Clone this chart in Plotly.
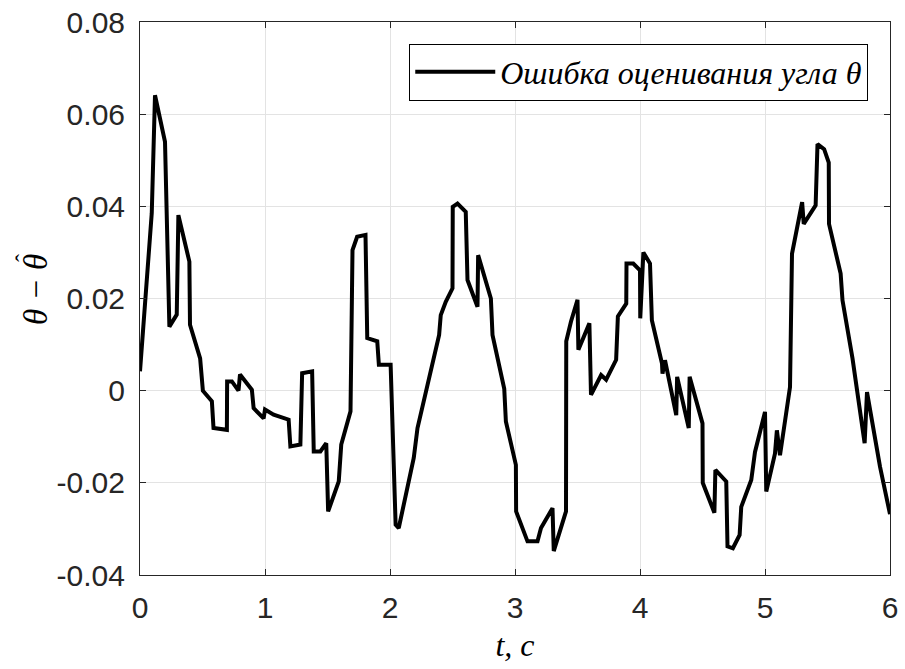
import plotly.graph_objects as go

t = [0.0, 0.094, 0.12, 0.2, 0.235, 0.294, 0.307, 0.395, 0.40, 0.481, 0.503, 0.575, 0.588, 0.695,
     0.697, 0.735, 0.788, 0.80, 0.895, 0.909, 0.989, 1.0, 1.069, 1.189, 1.203, 1.283, 1.297, 1.377,
     1.39, 1.443, 1.49, 1.505, 1.59, 1.61, 1.684, 1.70, 1.737, 1.804, 1.818, 1.898, 1.911, 2.005,
     2.045, 2.07, 2.19, 2.22, 2.393, 2.406, 2.446, 2.5, 2.502, 2.54, 2.606, 2.62, 2.70, 2.705,
     2.807, 2.82, 2.914, 2.927, 3.007, 3.009, 3.10, 3.18, 3.208, 3.30, 3.31, 3.408, 3.41, 3.448,
     3.50, 3.507, 3.595, 3.608, 3.689, 3.729, 3.809, 3.823, 3.89, 3.892, 3.946, 4.0, 4.002, 4.027,
     4.08, 4.095, 4.176, 4.18, 4.20, 4.29, 4.297, 4.39, 4.397, 4.5, 4.502, 4.595, 4.603, 4.69,
     4.70, 4.743, 4.797, 4.81, 4.89, 4.92, 5.0, 5.01, 5.08, 5.095, 5.12, 5.2, 5.216, 5.27, 5.297,
     5.31, 5.405, 5.42, 5.473, 5.51, 5.512, 5.605, 5.62, 5.70, 5.797, 5.816, 5.92, 6.0]
err = [0.0042, 0.0385, 0.0641, 0.054, 0.0139, 0.0165, 0.0381, 0.028, 0.0143, 0.007, 0.0, -0.0023,
       -0.0081, -0.0085, 0.002, 0.002, 0.0, 0.0035, 0.0002, -0.0038, -0.006, -0.0041, -0.0052,
       -0.0063, -0.0121, -0.0117, 0.0038, 0.0042, -0.0132, -0.0132, -0.0114, -0.0262, -0.0197,
       -0.0117, -0.0045, 0.0305, 0.0334, 0.0338, 0.0114, 0.0107, 0.0056, 0.0056, -0.0291, -0.0298,
       -0.0146, -0.0081, 0.0121, 0.0164, 0.0193, 0.0222, 0.0399, 0.0406, 0.0388, 0.024, 0.0182,
       0.0294, 0.02, 0.0121, 0.0004, -0.0067, -0.0161, -0.0262, -0.0327, -0.0327, -0.0298, -0.0255,
       -0.0348, -0.0262, 0.0107, 0.015, 0.0197, 0.0089, 0.0146, -0.0009, 0.0034, 0.0024, 0.0067,
       0.0161, 0.0189, 0.0276, 0.0276, 0.0261, 0.0157, 0.030, 0.0276, 0.0153, 0.0059, 0.0037,
       0.0066, -0.0053, 0.003, -0.0081, 0.003, -0.0071, -0.020, -0.0265, -0.0172, -0.0197, -0.0338,
       -0.0342, -0.0313, -0.0252, -0.0194, -0.0133, -0.0046, -0.0219, -0.0136, -0.0086, -0.014,
       0.0008, 0.0297, 0.0366, 0.0409, 0.0362, 0.0402, 0.0535, 0.0524, 0.0495, 0.0362, 0.0254,
       0.0196, 0.007, -0.0114, -0.0003, -0.0165, -0.0268]

x_ticks = [0, 1, 2, 3, 4, 5, 6]
y_ticks = [-0.04, -0.02, 0, 0.02, 0.04, 0.06, 0.08]
y_tick_labels = ["-0.04", "-0.02", "0", "0.02", "0.04", "0.06", "0.08"]

legend_name = "Ошибка оценивания угла θ"
x_title = "t, c"
y_title = "θ − θ"
y_title_hat = "ˆ"

serif = "Liberation Serif, DejaVu Serif, serif"
x_title_font = dict(family=serif, size=32, color="#000000", style="italic")
y_title_font = dict(family=serif, size=33, color="#000000", style="italic")
tick_font = dict(family="Liberation Sans, Arial, sans-serif", size=30, color="#262626")

fig = go.Figure()
fig.add_trace(go.Scatter(x=t, y=err, mode="lines", name=legend_name,
                         line=dict(color="#000000", width=4)))

axis_common = dict(showline=True, linecolor="#262626", linewidth=1, mirror="allticks",
                   ticks="inside", ticklen=6, tickcolor="#262626", showgrid=True,
                   gridcolor="#e3e3e3", gridwidth=1, zeroline=False, tickfont=tick_font,
                   automargin=False)

fig.update_xaxes(range=[0, 6], tickvals=x_ticks, ticklabelstandoff=6,
                 title=dict(text=x_title, font=x_title_font, standoff=10),
                 **axis_common)
fig.update_yaxes(range=[-0.04, 0.08], tickvals=y_ticks, ticktext=y_tick_labels, ticklabelstandoff=8,
                 **axis_common)

W, H = 905, 669
L, R, T, B = 140, 15, 22, 94
pw, ph = W - L - R, H - T - B

def px_to_paper(px, py):
    return (px - L) / pw, 1 - (py - T) / ph

tx, ty = px_to_paper(36, 290)
hx, hy = px_to_paper(24, 258)
fig.add_annotation(x=tx, y=ty, xref="paper", yref="paper", text=y_title, textangle=-90,
                   showarrow=False, xanchor="center", yanchor="middle", font=y_title_font)
fig.add_annotation(x=hx, y=hy, xref="paper", yref="paper", text=y_title_hat, textangle=-90,
                   showarrow=False, xanchor="center", yanchor="middle",
                   font=dict(family=serif, size=24, color="#000000"))

fig.update_layout(
    width=W, height=H,
    margin=dict(l=L, r=R, t=T, b=B, autoexpand=False),
    plot_bgcolor="#ffffff", paper_bgcolor="#ffffff",
    showlegend=True,
    legend=dict(x=0.971, y=0.961, xanchor="right", yanchor="top",
                bgcolor="#ffffff", bordercolor="#000000", borderwidth=1, itemwidth=80,
                font=dict(family=serif, size=32, color="#000000", style="italic")),
)

fig.write_html("out.html")
